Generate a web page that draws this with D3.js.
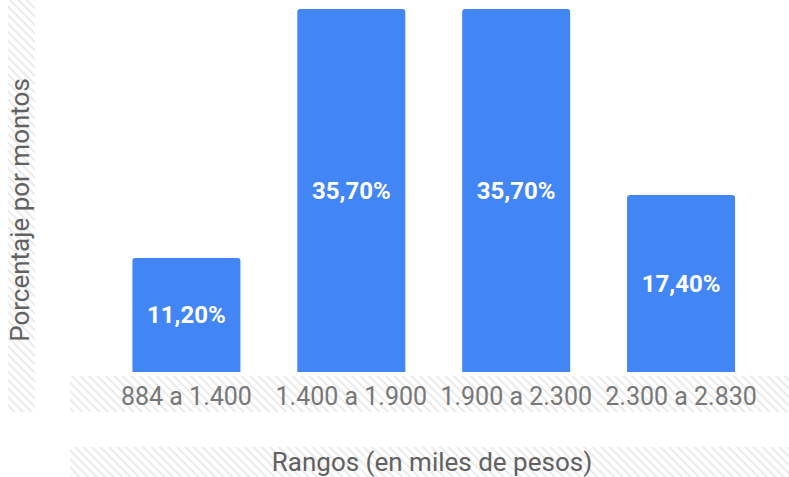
<!DOCTYPE html>
<html><head><meta charset="utf-8">
<script src="https://cdn.jsdelivr.net/npm/d3@7"></script>
<style>body{margin:0;background:#fff}svg{display:block}text{font-family:Roboto,"Noto Sans",sans-serif}</style>
</head><body>
<svg id="c" width="789" height="477"></svg>
<script>
const categories = ["884 a 1.400", "1.400 a 1.900", "1.900 a 2.300", "2.300 a 2.830"];
const values = [11.2, 35.7, 35.7, 17.4];
const valueLabels = ["11,20%", "35,70%", "35,70%", "17,40%"];
const xTitle = "Rangos (en miles de pesos)";
const yTitle = "Porcentaje por montos";

const svg = d3.select("#c");
const defs = svg.append("defs");
const pat = defs.append("pattern").attr("id","hatch").attr("patternUnits","userSpaceOnUse")
  .attr("width",6).attr("height",6).attr("patternTransform","rotate(-45)");
pat.append("line").attr("x1",1).attr("y1",0).attr("x2",1).attr("y2",6)
  .attr("stroke","#ebebeb").attr("stroke-width",2);

// hatched placeholder bands
svg.append("rect").attr("x",8).attr("y",0).attr("width",27).attr("height",412).attr("fill","url(#hatch)");
svg.append("rect").attr("x",70).attr("y",376).attr("width",719).attr("height",36).attr("fill","url(#hatch)");
svg.append("rect").attr("x",70).attr("y",447).attr("width",719).attr("height",30).attr("fill","url(#hatch)");

const x = d3.scaleBand().domain(categories).range([104, 763.5]).paddingInner(0.345).paddingOuter(0.1725);
const y = d3.scaleLinear().domain([0, 35.7]).range([372, 9]);

const g = svg.append("g");
g.selectAll("path.bar").data(values).join("path").attr("class","bar")
  .attr("fill","#4285f4")
  .attr("d",(d,i)=>{
    const x0=x(categories[i]), w=x.bandwidth(), y0=y(d), y1=y(0), r=3;
    return `M${x0},${y1}V${y0+r}Q${x0},${y0} ${x0+r},${y0}H${x0+w-r}Q${x0+w},${y0} ${x0+w},${y0+r}V${y1}Z`;
  });

g.selectAll("text.val").data(values).join("text").attr("class","val")
  .attr("x",(d,i)=>x(categories[i])+x.bandwidth()/2)
  .attr("y",d=>(y(d)+y(0))/2)
  .attr("dy","0.35em").attr("text-anchor","middle")
  .attr("fill","#fff").attr("font-size",24).attr("font-weight","bold")
  .text((d,i)=>valueLabels[i]);

const xAxis = svg.append("g").attr("transform","translate(0,372)")
  .call(d3.axisBottom(x).tickSize(0).tickPadding(0));
xAxis.select(".domain").remove();
xAxis.selectAll("text").attr("font-size",25).attr("fill","#777")
  .attr("font-family","Roboto").attr("y",33).attr("dy","0");

svg.append("text").attr("x",432).attr("y",471).attr("text-anchor","middle")
  .attr("font-size",26).attr("fill","#616161").text(xTitle);
svg.append("text").attr("transform","translate(29,210) rotate(-90)")
  .attr("text-anchor","middle").attr("font-size",26).attr("fill","#616161").text(yTitle);
</script>
</body></html>
